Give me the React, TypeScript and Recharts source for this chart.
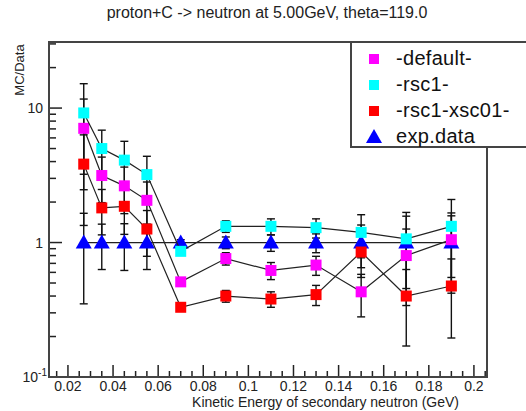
import { ComposedChart, Scatter, XAxis, YAxis, ErrorBar } from "recharts";

const energy = [0.027, 0.035, 0.045, 0.055, 0.07, 0.09, 0.11, 0.13, 0.15, 0.17, 0.19];

const defaultRatio = [7.07, 3.15, 2.64, 2.06, 0.51, 0.76, 0.62, 0.68, 0.43, 0.8, 1.05];
const defaultErr = [4.6, 1.17, 1.0, 0.76, 0.03, 0.08, 0.09, 0.11, 0.15, 0.46, 0.61];

const rsc1Ratio = [9.2, 5.0, 4.1, 3.2, 0.86, 1.32, 1.32, 1.29, 1.19, 1.065, 1.32];
const rsc1Err = [5.98, 1.85, 1.56, 1.18, 0.04, 0.13, 0.18, 0.21, 0.42, 0.61, 0.77];

const xsc01Ratio = [3.83, 1.81, 1.86, 1.26, 0.33, 0.4, 0.38, 0.41, 0.85, 0.4, 0.475];
const xsc01Err = [2.49, 0.67, 0.71, 0.47, 0.02, 0.04, 0.05, 0.07, 0.3, 0.23, 0.28];

const expRatio = [1, 1, 1, 1, 1, 1, 1, 1, 1, 1, 1];
const expErr = [0.65, 0.37, 0.38, 0.37, 0.05, 0.1, 0.14, 0.16, 0.35, 0.57, 0.58];

const xMajorTicks = [0.02, 0.04, 0.06, 0.08, 0.1, 0.12, 0.14, 0.16, 0.18, 0.2];
const xTickLabels = ["0.02", "0.04", "0.06", "0.08", "0.1", "0.12", "0.14", "0.16", "0.18", "0.2"];
const yMajorTicks = [0.1, 1, 10];
const yMinorTicks = [0.2, 0.3, 0.4, 0.5, 0.6, 0.7, 0.8, 0.9, 2, 3, 4, 5, 6, 7, 8, 9, 20, 30];

// minor x ticks every 0.005 between the labelled ones
const xMinorTicks: number[] = [];
for (let i = 3; i <= 41; i++) {
  if (i % 4 !== 0) xMinorTicks.push(Math.round(i * 5) / 1000);
}

const toPoints = (ys: number[], errs: number[]) =>
  energy.map((x, i) => ({ x, y: ys[i], err: errs[i] }));

const FONT = "'Liberation Sans', Arial, Helvetica, sans-serif";
const INK = "#222";

const XTick = (props: any) => {
  const { x, y, payload } = props;
  const v = Math.round(payload.value * 1000) / 1000;
  const idx = xMajorTicks.findIndex((t) => Math.abs(t - v) < 1e-6);
  const major = idx >= 0;
  return (
    <g>
      <line x1={x} x2={x} y1={y} y2={y - (major ? 12 : 6)} stroke={INK} strokeWidth={1.5} />
      {major && (
        <text x={x} y={y + 14} textAnchor="middle" fontSize={14} fontFamily={FONT} fill={INK}>
          {xTickLabels[idx]}
        </text>
      )}
    </g>
  );
};

const YTick = (props: any) => {
  const { x, y, payload } = props;
  const v = payload.value;
  const major = yMajorTicks.some((t) => Math.abs(t - v) < 1e-9);
  let label = null;
  if (major && v === 0.1) {
    label = (
      <text x={x - 2} y={y + 5} textAnchor="end" fontSize={14} fontFamily={FONT} fill={INK}>
        10
        <tspan dy={-6} fontSize={10}>-1</tspan>
      </text>
    );
  } else if (major) {
    label = (
      <text x={x - 6} y={y + 5} textAnchor="end" fontSize={14} fontFamily={FONT} fill={INK}>
        {v === 10 ? "10" : "1"}
      </text>
    );
  }
  return (
    <g>
      <line x1={x} x2={x + (major ? 13 : 7)} y1={y} y2={y} stroke={INK} strokeWidth={1.5} />
      {label}
    </g>
  );
};

const square = (color: string) => (props: any) => {
  const { cx, cy } = props;
  if (cx == null || cy == null) return <g />;
  return <rect x={cx - 5.5} y={cy - 5.5} width={11} height={11} fill={color} />;
};

const triangle = (props: any) => {
  const { cx, cy } = props;
  if (cx == null || cy == null) return <g />;
  return <polygon points={`${cx - 8},${cy + 6} ${cx + 8},${cy + 6} ${cx},${cy - 8}`} fill="#0000ff" />;
};

const lineStyle = { stroke: INK, strokeWidth: 1.2 };

const legendItems = [
  { name: "-default-", color: "#ff00ff", shape: "square" },
  { name: "-rsc1-", color: "#00ffff", shape: "square" },
  { name: "-rsc1-xsc01-", color: "#ff0000", shape: "square" },
  { name: "exp.data", color: "#0000ff", shape: "triangle" },
];

export default function App() {
  return (
    <div
      style={{
        position: "absolute",
        left: 0,
        top: 0,
        width: 526,
        height: 411,
        overflow: "hidden",
        background: "#fff",
        fontFamily: FONT,
      }}
    >
      <div
        style={{
          position: "absolute",
          left: 0,
          top: 4,
          width: 534,
          textAlign: "center",
          fontSize: 16,
          color: INK,
        }}
      >
        proton+C -&gt; neutron at 5.00GeV, theta=119.0
      </div>
      <div
        style={{
          position: "absolute",
          left: 19,
          top: 70,
          transform: "translate(-50%, -50%) rotate(-90deg)",
          fontSize: 13,
          color: INK,
          whiteSpace: "nowrap",
        }}
      >
        MC/Data
      </div>
      <div
        style={{
          position: "absolute",
          right: 526 - 459,
          top: 395,
          fontSize: 14,
          lineHeight: "14px",
          color: INK,
          whiteSpace: "nowrap",
        }}
      >
        Kinetic Energy of secondary neutron (GeV)
      </div>
      <ComposedChart
        width={526}
        height={411}
        margin={{ top: 42, right: 39, bottom: 33, left: 48 }}
        style={{ position: "absolute", left: 0, top: 0 }}
      >
        <XAxis
          type="number"
          dataKey="x"
          domain={[0.0116, 0.2058]}
          allowDataOverflow
          ticks={[...xMajorTicks, ...xMinorTicks]}
          tick={<XTick />}
          tickLine={false}
          axisLine={false}
          tickSize={0}
          tickMargin={0}
          height={1}
          interval={0}
        />
        <YAxis
          type="number"
          dataKey="y"
          scale="log"
          domain={[0.1, 31]}
          allowDataOverflow
          ticks={[...yMajorTicks, ...yMinorTicks]}
          tick={<YTick />}
          tickLine={false}
          axisLine={false}
          tickSize={0}
          tickMargin={0}
          width={1}
          interval={0}
        />
        <Scatter
          name="exp.data"
          data={toPoints(expRatio, expErr)}
          line={lineStyle}
          lineType="joint"
          shape={triangle}
          isAnimationActive={false}
        >
          <ErrorBar dataKey="err" direction="y" width={4} stroke="#111" strokeWidth={1.4} />
        </Scatter>
        <Scatter
          name="-default-"
          data={toPoints(defaultRatio, defaultErr)}
          line={lineStyle}
          lineType="joint"
          shape={square("#ff00ff")}
          isAnimationActive={false}
        >
          <ErrorBar dataKey="err" direction="y" width={4} stroke="#111" strokeWidth={1.4} />
        </Scatter>
        <Scatter
          name="-rsc1-"
          data={toPoints(rsc1Ratio, rsc1Err)}
          line={lineStyle}
          lineType="joint"
          shape={square("#00ffff")}
          isAnimationActive={false}
        >
          <ErrorBar dataKey="err" direction="y" width={4} stroke="#111" strokeWidth={1.4} />
        </Scatter>
        <Scatter
          name="-rsc1-xsc01-"
          data={toPoints(xsc01Ratio, xsc01Err)}
          line={lineStyle}
          lineType="joint"
          shape={square("#ff0000")}
          isAnimationActive={false}
        >
          <ErrorBar dataKey="err" direction="y" width={4} stroke="#111" strokeWidth={1.4} />
        </Scatter>
      </ComposedChart>
      {/* plot frame */}
      <div
        style={{
          position: "absolute",
          left: 48,
          top: 41,
          width: 440,
          height: 337,
          border: "2px solid #444",
          boxSizing: "border-box",
          pointerEvents: "none",
        }}
      />
      {/* legend box, running off the right edge */}
      <div
        style={{
          position: "absolute",
          left: 350,
          top: 41,
          width: 200,
          height: 107,
          border: "2px solid #444",
          boxSizing: "border-box",
          background: "#fff",
        }}
      >
        {legendItems.map((item, i) => (
          <div
            key={item.name}
            style={{
              position: "absolute",
              left: 0,
              top: 3 + i * 26,
              height: 24,
              display: "flex",
              alignItems: "center",
              whiteSpace: "nowrap",
            }}
          >
            <svg width={44} height={24}>
              {item.shape === "square" ? (
                <rect x={17} y={8} width={10} height={10} fill={item.color} />
              ) : (
                <polygon points="14,19 30,19 22,5" fill={item.color} />
              )}
            </svg>
            <span style={{ fontSize: 20, color: "#111", letterSpacing: 0.3 }}>{item.name}</span>
          </div>
        ))}
      </div>
    </div>
  );
}
